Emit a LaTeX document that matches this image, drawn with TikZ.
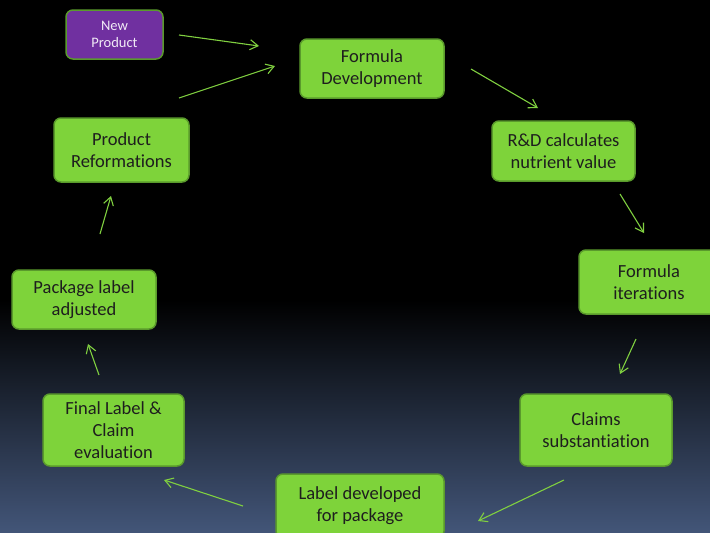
\documentclass[tikz,border=0pt]{standalone}
\usepackage{fontspec}
\setmainfont{Carlito}[Ligatures={NoCommon}]
\usetikzlibrary{arrows.meta}
\definecolor{boxgreen}{HTML}{7ED33A}
\definecolor{boxedge}{HTML}{5A9A2C}
\definecolor{arrgreen}{HTML}{80D040}
\definecolor{purp}{HTML}{7030A0}
\definecolor{bgbot}{HTML}{435679}
\definecolor{txt}{HTML}{1E1E1E}
\tikzset{
  stepbox/.style={draw=boxedge, line width=1.5pt, fill=boxgreen, rounded corners=7pt,
    align=center, text=txt, inner sep=2pt, font=\fontsize{18.5}{22}\selectfont},
  newbox/.style={draw=boxedge, line width=1.5pt, fill=purp, rounded corners=7pt,
    align=center, text=white!90!purp, inner sep=2pt, font=\fontsize{14.5}{16.5}\selectfont},
  flow/.style={draw=arrgreen, line width=1.1pt, -{Straight Barb[length=8pt,width=10pt]}}
}
\begin{document}
\begin{tikzpicture}[x=1pt,y=-1pt]
\useasboundingbox (0,0) rectangle (710,533);
\fill[black] (0,0) rectangle (710,533);
\shade[top color=black, bottom color=bgbot] (0,300) rectangle (710,534);

\node[newbox, minimum width=97pt, minimum height=49pt] (newp) at (114.5,34.5) {New\\Product};
\node[stepbox, minimum width=144pt, minimum height=59pt] (formula) at (372,68.5) {Formula\\Development};
\node[stepbox, minimum width=143pt, minimum height=60pt] (rd) at (563.5,151) {R\&D calculates\\nutrient value};
\node[stepbox, minimum width=140pt, minimum height=64pt] (iter) at (649,282) {Formula\\iterations};
\node[stepbox, minimum width=152pt, minimum height=72pt] (claims) at (596,430) {Claims\\substantiation};
\node[stepbox, minimum width=168pt, minimum height=64pt] (label) at (360,506) {Label developed\\for package};
\node[stepbox, minimum width=141pt, minimum height=72pt] (final) at (113.5,430) {Final Label \&\\Claim\\evaluation};
\node[stepbox, minimum width=144pt, minimum height=59pt] (pack) at (84,299.5) {Package label\\adjusted};
\node[stepbox, minimum width=135pt, minimum height=64pt] (reform) at (121.5,150) {Product\\Reformations};

\coordinate (a1s) at (179,35);  \coordinate (a1e) at (259,46);
\coordinate (a2s) at (179,98);  \coordinate (a2e) at (275,66);
\coordinate (a3s) at (471,69);  \coordinate (a3e) at (538,108);
\coordinate (a4s) at (620,194); \coordinate (a4e) at (644,233);
\coordinate (a5s) at (636,339); \coordinate (a5e) at (620,374);
\coordinate (a6s) at (564,480); \coordinate (a6e) at (478,521);
\coordinate (a7s) at (243,506); \coordinate (a7e) at (164,480);
\coordinate (a8s) at (99,375);  \coordinate (a8e) at (88,344);
\coordinate (a9s) at (100,234); \coordinate (a9e) at (111,196);

\draw[flow] (a1s) -- (a1e);
\draw[flow] (a2s) -- (a2e);
\draw[flow] (a3s) -- (a3e);
\draw[flow] (a4s) -- (a4e);
\draw[flow] (a5s) -- (a5e);
\draw[flow] (a6s) -- (a6e);
\draw[flow] (a7s) -- (a7e);
\draw[flow] (a8s) -- (a8e);
\draw[flow] (a9s) -- (a9e);
\end{tikzpicture}
\end{document}
